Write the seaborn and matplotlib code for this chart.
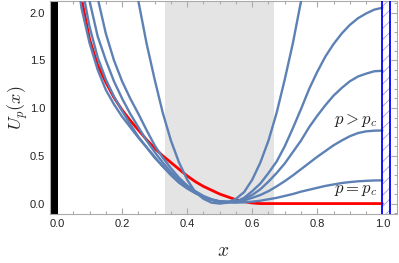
import numpy as np
import pandas as pd
import matplotlib
matplotlib.use("Agg")
import matplotlib.pyplot as plt
import seaborn as sns
from matplotlib.ticker import MultipleLocator

# values
x_blue = [0.05, 0.075, 0.1, 0.125, 0.15, 0.175, 0.2, 0.225, 0.25, 0.275, 0.3, 0.325,
          0.35, 0.375, 0.4, 0.425, 0.45, 0.475, 0.5, 0.525, 0.55, 0.575, 0.6, 0.625,
          0.65, 0.675, 0.7, 0.725, 0.75, 0.775, 0.8, 0.825, 0.85, 0.875, 0.9, 0.925,
          0.95, 0.975, 1.0]
u_e = [2.7, 2.05, 1.68, 1.4, 1.19, 1.04, 0.91, 0.8, 0.69, 0.59, 0.49, 0.39,
       0.3, 0.22, 0.16, 0.11, 0.07, 0.04, 0.02, 0.012, 0.01, 0.013, 0.02, 0.03,
       0.045, 0.06, 0.08, 0.1, 0.125, 0.145, 0.165, 0.185, 0.2, 0.215, 0.225, 0.233,
       0.238, 0.242, 0.243]
u_d = [3.2, 2.3, 1.85, 1.53, 1.3, 1.12, 0.97, 0.83, 0.7, 0.59, 0.48, 0.39,
       0.3, 0.22, 0.16, 0.11, 0.07, 0.04, 0.02, 0.015, 0.015, 0.035, 0.06, 0.09,
       0.13, 0.18, 0.235, 0.295, 0.36, 0.425, 0.49, 0.55, 0.61, 0.66, 0.705, 0.738,
       0.756, 0.763, 0.765]
u_c = [3.8, 2.75, 2.12, 1.75, 1.5, 1.28, 1.1, 0.94, 0.8, 0.66, 0.54, 0.43,
       0.33, 0.25, 0.18, 0.12, 0.07, 0.04, 0.02, 0.02, 0.02, 0.05, 0.09, 0.15,
       0.23, 0.32, 0.42, 0.54, 0.66, 0.8, 0.92, 1.03, 1.13, 1.21, 1.28, 1.33,
       1.36, 1.385, 1.39]
u_b = [4.8, 3.5, 2.75, 2.15, 1.78, 1.5, 1.28, 1.1, 0.94, 0.77, 0.61, 0.48,
       0.37, 0.27, 0.19, 0.13, 0.08, 0.045, 0.025, 0.02, 0.02, 0.06, 0.13, 0.21,
       0.32, 0.44, 0.6, 0.79, 0.99, 1.2, 1.38, 1.54, 1.67, 1.78, 1.87, 1.94,
       1.99, 2.03, 2.05]

x_a = [0.2, 0.225, 0.25, 0.275, 0.3, 0.325, 0.35, 0.375, 0.4, 0.425, 0.45, 0.475, 0.5,
       0.525, 0.55, 0.575, 0.6, 0.625, 0.65, 0.675, 0.7, 0.725, 0.75, 0.775, 0.8]
u_a = [3.5, 2.75, 2.12, 1.68, 1.3, 0.95, 0.66, 0.43, 0.25, 0.12, 0.05, 0.01, 0.0,
       0.01, 0.05, 0.12, 0.25, 0.43, 0.66, 0.95, 1.3, 1.68, 2.12, 2.75, 3.5]

x_red = [0.06, 0.075, 0.1, 0.125, 0.15, 0.175, 0.2, 0.225, 0.25, 0.275, 0.3, 0.325,
         0.35, 0.375, 0.4, 0.425, 0.45, 0.475, 0.5, 0.525, 0.55, 0.575, 0.6, 0.625,
         0.7, 0.8, 0.9, 1.0]
u_red = [2.6, 2.15, 1.72, 1.45, 1.27, 1.11, 0.98, 0.87, 0.77, 0.67, 0.58, 0.5,
         0.43, 0.36, 0.29, 0.23, 0.18, 0.14, 0.1, 0.07, 0.04, 0.02, 0.006, 0.0,
         0.0, 0.0, 0.0, 0.0]

blue = "#5e81b5"

sns.set_style("ticks")
plt.rcParams["font.family"] = ["Liberation Sans", "DejaVu Sans"]
plt.rcParams["mathtext.fontset"] = "cm"
plt.rcParams["hatch.linewidth"] = 0.6

fig = plt.figure(figsize=(3.99, 2.63), dpi=100)
ax = fig.add_axes([0.125, 0.186, 0.87, 0.81])

ax.axvspan(1 / 3, 2 / 3, color="#e4e4e4", lw=0, zorder=0)
ax.axvspan(-0.03, 0.004, color="black", lw=0, zorder=1)
ax.axvspan(1.0, 1.025, facecolor="white", edgecolor="#9a9aff", hatch="///", lw=0, zorder=1)
ax.axvline(1.0, color="blue", lw=1.3, zorder=4)
ax.axvline(1.025, color="blue", lw=1.3, zorder=4)

sns.lineplot(x=x_red, y=u_red, ax=ax, color="red", linewidth=2.0, zorder=2)
for ys in [u_e, u_d, u_c, u_b]:
    sns.lineplot(x=x_blue, y=ys, ax=ax, color=blue, linewidth=1.7, zorder=3)
sns.lineplot(x=x_a, y=u_a, ax=ax, color=blue, linewidth=1.7, zorder=3)

ax.text(0.985, 0.87, r"$p > p_c$", ha="right", va="center", fontsize=12, color="#222222")
ax.text(0.985, 0.14, r"$p = p_c$", ha="right", va="center", fontsize=12, color="#222222")

ax.set_xlim(-0.022, 1.045)
ax.set_ylim(-0.11, 2.12)
ax.xaxis.set_major_locator(MultipleLocator(0.2))
ax.xaxis.set_minor_locator(MultipleLocator(0.05))
ax.yaxis.set_major_locator(MultipleLocator(0.5))
ax.yaxis.set_minor_locator(MultipleLocator(0.1))
ax.tick_params(which="both", direction="in", top=True, right=True, color="#aaaaaa",
               labelsize=8, labelcolor="#222222", width=0.8)
ax.tick_params(which="major", length=4)
ax.tick_params(which="minor", length=2.2)
for s in ax.spines.values():
    s.set_color("#aaaaaa")
    s.set_linewidth(0.8)

ax.set_xlabel(r"$x$", fontsize=14, labelpad=10)
ax.set_ylabel(r"$U_p(x)$", fontsize=13, labelpad=0)

fig.savefig("out.png", dpi=100)
